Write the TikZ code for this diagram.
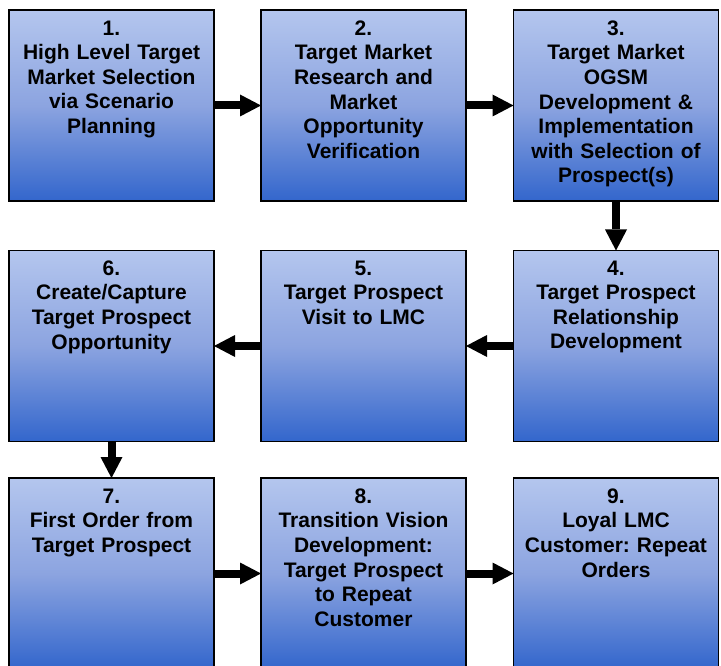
\documentclass[tikz,border=0pt]{standalone}
\usepackage{fontspec}
\setmainfont{Liberation Sans}
\usetikzlibrary{arrows.meta}
\frenchspacing
\definecolor{boxtop}{RGB}{180,198,238}
\definecolor{boxmid}{RGB}{140,164,224}
\definecolor{boxbot}{RGB}{51,102,204}
\tikzset{
  stepbox/.style={draw=black, line width=1.3pt, rectangle, inner sep=0pt, outer sep=0pt,
    minimum width=205pt, minimum height=191pt,
    top color=boxtop, bottom color=boxbot, middle color=boxmid},
  boxtext/.style={anchor=north, inner sep=0pt, text width=205pt, align=center,
    font=\bfseries\fontsize{21}{24.6}\selectfont},
  flow/.style={line width=8pt, draw=black,
    -{Triangle[length=21pt,width=22pt,line width=0pt]}}
}
\begin{document}
\begin{tikzpicture}[x=1pt,y=-1pt]
\useasboundingbox (0,0) rectangle (721,666);
% boxes
\node[stepbox] (b1) at (111.5,105.5) {};
\node[stepbox] (b2) at (363.5,105.5) {};
\node[stepbox] (b3) at (616,105.5) {};
\node[stepbox] (b4) at (616,346) {};
\node[stepbox] (b5) at (363.5,346) {};
\node[stepbox] (b6) at (111.5,346) {};
\node[stepbox] (b7) at (111.5,573.5) {};
\node[stepbox] (b8) at (363.5,573.5) {};
\node[stepbox] (b9) at (616,573.5) {};
% texts
\node[boxtext] (t1) at (111.5,20.5) {1.\\High Level Target\\Market Selection\\via Scenario\\Planning};
\node[boxtext] (t2) at (363.5,20.5) {2.\\Target Market\\Research and\\Market\\Opportunity\\Verification};
\node[boxtext] (t3) at (616,20.5) {3.\\Target Market\\OGSM\\Development \&\\Implementation\\with Selection of\\Prospect(s)};
\node[boxtext] (t4) at (616,260.5) {4.\\Target Prospect\\Relationship\\Development};
\node[boxtext] (t5) at (363.5,260.5) {5.\\Target Prospect\\Visit to LMC};
\node[boxtext] (t6) at (111.5,260.5) {6.\\Create/Capture\\Target Prospect\\Opportunity};
\node[boxtext] (t7) at (111.5,488.5) {7.\\First Order from\\Target Prospect};
\node[boxtext] (t8) at (363.5,488.5) {8.\\Transition Vision\\Development:\\Target Prospect\\to Repeat\\Customer};
\node[boxtext] (t9) at (616,488.5) {9.\\Loyal LMC\\Customer: Repeat\\Orders};
% connectors
\draw[flow] (b1.east) -- (b2.west);
\draw[flow] (b2.east) -- (b3.west);
\draw[flow] (b3.south) -- (b4.north);
\draw[flow] (b4.west) -- (b5.east);
\draw[flow] (b5.west) -- (b6.east);
\draw[flow] (b6.south) -- (b7.north);
\draw[flow] (b7.east) -- (b8.west);
\draw[flow] (b8.east) -- (b9.west);
\end{tikzpicture}
\end{document}
